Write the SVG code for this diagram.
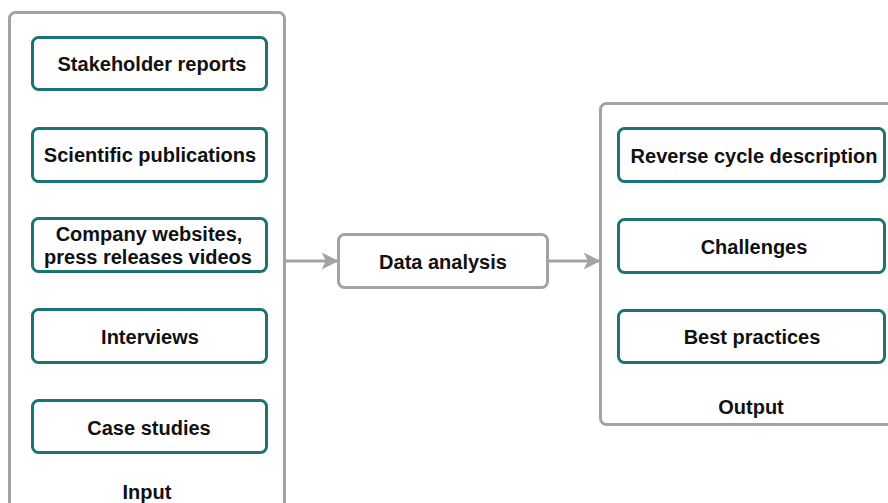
<svg xmlns="http://www.w3.org/2000/svg" width="888" height="503" viewBox="0 0 888 503">
  <style>
    .frame { fill: #ffffff; stroke: #a3a3a3; stroke-width: 3; }
    .item { fill: #ffffff; stroke: #1b7373; stroke-width: 3; }
    .step { fill: #ffffff; stroke: #a3a3a3; stroke-width: 3; }
    .label { font-family: "Liberation Sans", Arial, sans-serif; font-weight: bold; font-size: 20px; fill: #111111; text-anchor: middle; }
    .link { stroke: #a3a3a3; stroke-width: 3; fill: none; }
  </style>
  <defs>
    <marker id="arrow" viewBox="0 0 10 10" refX="9" refY="5" markerWidth="5.7" markerHeight="5.7" markerUnits="strokeWidth" orient="auto">
      <path d="M0,0 L10,5 L0,10 L2.5,5 Z" fill="#a3a3a3"/>
    </marker>
  </defs>

  <!-- Input group -->
  <g id="input">
    <rect class="frame" x="9.5" y="12.5" width="275" height="500" rx="6"/>
    <text class="label" x="147" y="499">Input</text>
  </g>
  <g id="stakeholder-reports">
    <rect class="item" x="32.5" y="37.5" width="234" height="52" rx="6"/>
    <text class="label" x="152" y="71">Stakeholder reports</text>
  </g>
  <g id="scientific-publications">
    <rect class="item" x="32.5" y="128.5" width="234" height="53" rx="6"/>
    <text class="label" x="150" y="162">Scientific publications</text>
  </g>
  <g id="company-websites">
    <rect class="item" x="32.5" y="218.5" width="234" height="53" rx="6"/>
    <text class="label" x="149" y="241">Company websites,</text>
    <text class="label" x="148" y="264">press releases videos</text>
  </g>
  <g id="interviews">
    <rect class="item" x="32.5" y="309.5" width="234" height="53" rx="6"/>
    <text class="label" x="150" y="344">Interviews</text>
  </g>
  <g id="case-studies">
    <rect class="item" x="32.5" y="400.5" width="234" height="52" rx="6"/>
    <text class="label" x="149" y="435">Case studies</text>
  </g>

  <!-- Analysis step -->
  <g id="data-analysis">
    <rect class="step" x="338.5" y="234.5" width="209" height="53" rx="6"/>
    <text class="label" x="443" y="269">Data analysis</text>
  </g>

  <!-- Output group -->
  <g id="output">
    <rect class="frame" x="600.5" y="103.5" width="300" height="321" rx="6"/>
    <text class="label" x="751" y="414">Output</text>
  </g>
  <g id="reverse-cycle">
    <rect class="item" x="618.5" y="128.5" width="266" height="53" rx="6"/>
    <text class="label" x="754" y="163">Reverse cycle description</text>
  </g>
  <g id="challenges">
    <rect class="item" x="618.5" y="219.5" width="266" height="53" rx="6"/>
    <text class="label" x="754" y="254">Challenges</text>
  </g>
  <g id="best-practices">
    <rect class="item" x="618.5" y="310.5" width="266" height="52" rx="6"/>
    <text class="label" x="752" y="344">Best practices</text>
  </g>

  <!-- Connectors -->
  <g id="connectors">
    <line class="link" x1="285" y1="261" x2="337" y2="261" marker-end="url(#arrow)"/>
    <line class="link" x1="548" y1="261" x2="599" y2="261" marker-end="url(#arrow)"/>
  </g>
</svg>
